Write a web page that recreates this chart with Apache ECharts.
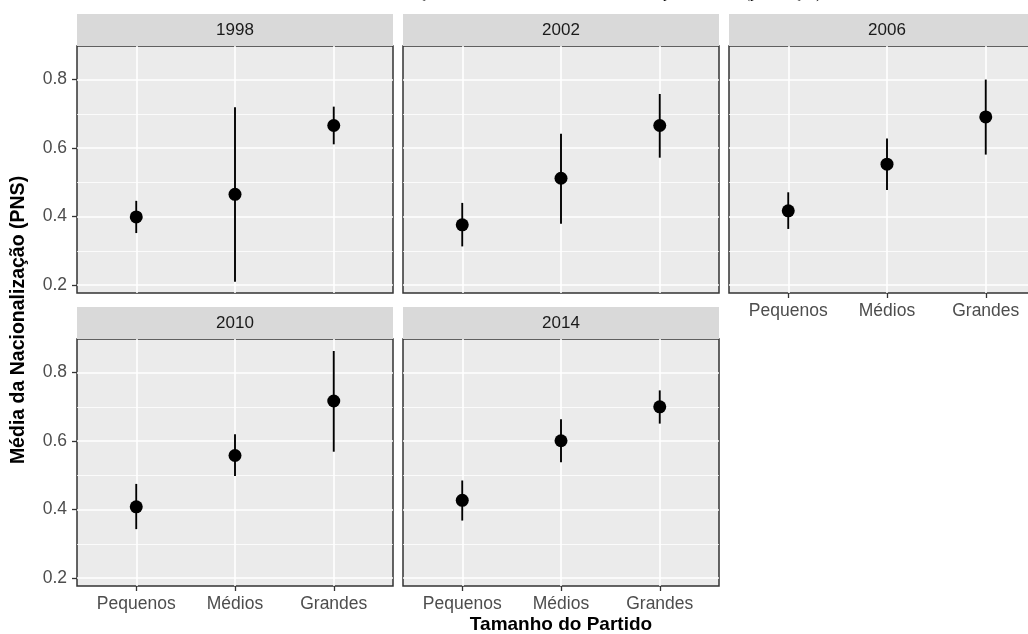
<!DOCTYPE html>
<html>
<head>
<meta charset="utf-8">
<script src="https://cdn.jsdelivr.net/npm/echarts@6/dist/echarts.min.js"></script>
<style>
  html, body { margin: 0; padding: 0; background: #ffffff; }
  #chart { width: 1028px; height: 634px; }
</style>
</head>
<body>
<div id="chart"></div>
<script>
// Election years (one facet each) and party-size categories
const years = ['1998', '2002', '2006', '2010', '2014'];
const sizes = ['Pequenos', 'Médios', 'Grandes'];

// Mean nationalization (PNS) per year, by party size
const means1998 = [0.399, 0.465, 0.666];
const means2002 = [0.376, 0.512, 0.666];
const means2006 = [0.417, 0.553, 0.691];
const means2010 = [0.408, 0.558, 0.717];
const means2014 = [0.427, 0.601, 0.700];

// Lower / upper ends of the interval bars
const lower1998 = [0.352, 0.210, 0.611];
const lower2002 = [0.313, 0.379, 0.572];
const lower2006 = [0.364, 0.478, 0.581];
const lower2010 = [0.343, 0.498, 0.569];
const lower2014 = [0.368, 0.538, 0.651];

const upper1998 = [0.446, 0.719, 0.721];
const upper2002 = [0.440, 0.642, 0.758];
const upper2006 = [0.471, 0.628, 0.800];
const upper2010 = [0.475, 0.620, 0.863];
const upper2014 = [0.485, 0.664, 0.748];

// Axis ticks
const yTicks = [0.2, 0.4, 0.6, 0.8];
const yMinorTicks = [0.3, 0.5, 0.7];
const xTicks = [0, 1, 2];

const means = [means1998, means2002, means2006, means2010, means2014];
const lower = [lower1998, lower2002, lower2006, lower2010, lower2014];
const upper = [upper1998, upper2002, upper2006, upper2010, upper2014];

// Shared y range (data range with a 5% pad on each side)
const yMin = 0.177;
const yMax = 0.898;

// Facet layout
const colLeft = [77, 403, 729];
const rowTop = [46, 339];
const panelW = 316;
const panelH = 247;
const stripH = 32;

const FONT = '"Liberation Sans", Arial, sans-serif';

const grids = [], xAxes = [], yAxes = [], series = [], graphics = [];

years.forEach((year, i) => {
  const col = i % 3;
  const row = Math.floor(i / 3);
  const left = colLeft[col];
  const top = rowTop[row];
  const showX = (i >= 2);
  const showY = (col === 0);

  grids.push({
    left: left, top: top, width: panelW, height: panelH,
    outerBoundsMode: 'none', containLabel: false,
    show: true, backgroundColor: '#EBEBEB',
    borderColor: '#333333', borderWidth: 1.5
  });

  xAxes.push({
    gridIndex: i, type: 'value', min: -0.6, max: 2.6,
    axisLine: { show: false, onZero: false },
    axisTick: { show: showX, customValues: xTicks, length: 5, lineStyle: { color: '#333333', width: 1.3 } },
    axisLabel: { show: showX, customValues: xTicks, formatter: v => sizes[Math.round(v)] || '',
                 color: '#4D4D4D', fontSize: 17.5, fontFamily: FONT, margin: 9 },
    splitLine: { show: true, lineStyle: { color: '#FFFFFF', width: 1.6 } }
  });

  // major y grid + labels
  yAxes.push({
    gridIndex: i, type: 'value', min: yMin, max: yMax, position: 'left',
    axisLine: { show: false, onZero: false },
    axisTick: { show: showY, customValues: yTicks, length: 5, lineStyle: { color: '#333333', width: 1.3 } },
    axisLabel: { show: showY, customValues: yTicks, formatter: v => v.toFixed(1),
                 color: '#4D4D4D', fontSize: 17.5, fontFamily: FONT, margin: 10 },
    splitLine: { show: true, lineStyle: { color: '#FFFFFF', width: 1.6 } }
  });
  // minor y grid
  yAxes.push({
    gridIndex: i, type: 'value', min: yMin, max: yMax, position: 'left',
    axisLine: { show: false, onZero: false },
    axisTick: { show: false, customValues: yMinorTicks },
    axisLabel: { show: false, customValues: yMinorTicks },
    splitLine: { show: true, lineStyle: { color: '#FFFFFF', width: 0.8 } }
  });

  // interval bars
  series.push({
    type: 'custom', xAxisIndex: i, yAxisIndex: 2 * i, z: 3,
    data: sizes.map((s, j) => [j, lower[i][j], upper[i][j]]),
    renderItem: (params, api) => {
      const x = api.value(0);
      const lo = api.coord([x, api.value(1)]);
      const hi = api.coord([x, api.value(2)]);
      return {
        type: 'line',
        shape: { x1: lo[0], y1: lo[1], x2: hi[0], y2: hi[1] },
        style: { stroke: '#000000', lineWidth: 1.9 }
      };
    }
  });
  // mean points
  series.push({
    type: 'scatter', xAxisIndex: i, yAxisIndex: 2 * i, z: 4,
    symbol: 'circle', symbolSize: 13,
    itemStyle: { color: '#000000', opacity: 1 },
    data: sizes.map((s, j) => [j, means[i][j]])
  });

  // facet strip
  graphics.push({
    type: 'rect', silent: true,
    shape: { x: left, y: top - stripH, width: panelW, height: stripH },
    style: { fill: '#D9D9D9' }
  });
  graphics.push({
    type: 'text', silent: true,
    x: left + panelW / 2, y: top - stripH / 2,
    style: { text: year, fill: '#1A1A1A', font: '17px ' + FONT, align: 'center', verticalAlign: 'middle' }
  });
});

// plot title (sits at the very top edge)
graphics.push({
  type: 'text', silent: true, x: 349, y: -6,
  style: { text: 'Nacionalização média de acordo com o tamanho do partido e ano (por eleição)',
           fill: '#000000', font: '15px "Liberation Serif", serif', align: 'left', verticalAlign: 'middle' }
});
// axis titles
graphics.push({
  type: 'text', silent: true, x: 561, y: 625,
  style: { text: 'Tamanho do Partido', fill: '#000000', font: 'bold 19px ' + FONT,
           align: 'center', verticalAlign: 'middle' }
});
graphics.push({
  type: 'text', silent: true, x: 19, y: 320, rotation: Math.PI / 2,
  style: { text: 'Média da Nacionalização (PNS)', fill: '#000000', font: 'bold 19.5px ' + FONT,
           align: 'center', verticalAlign: 'middle' }
});

const chart = echarts.init(document.getElementById('chart'), null, { renderer: 'canvas' });
chart.setOption({
  animation: false,
  backgroundColor: '#FFFFFF',
  grid: grids,
  xAxis: xAxes,
  yAxis: yAxes,
  series: series,
  graphic: graphics
});
</script>
</body>
</html>
